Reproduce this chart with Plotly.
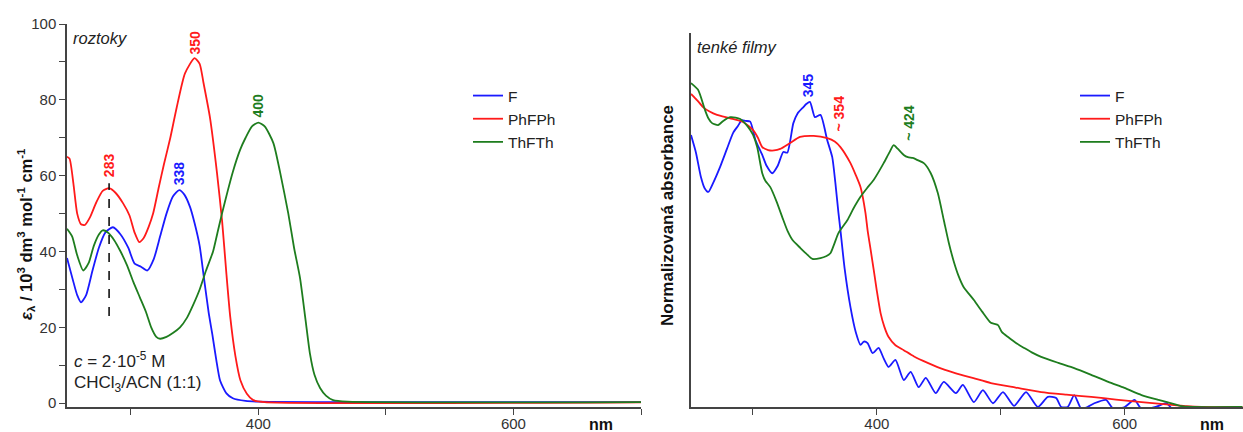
import plotly.graph_objects as go

# ---------------- Left panel: solutions (roztoky) ----------------
sol_F_nm = [250, 255, 258, 261, 265, 270, 275, 280, 286, 292, 298, 303, 308, 313, 318, 323, 328, 333,
            338, 342, 346.5, 350, 354, 357, 361, 364, 367, 370, 375, 380, 390, 400, 450, 700]
sol_F_eps = [38.3, 32, 28.5, 26.6, 28.5, 35, 41, 45, 46.4, 44.5, 41, 36.8, 36, 35, 38, 44, 50, 54.5,
             56.2, 55, 51.7, 47.5, 41.5, 34, 24, 18, 11.5, 6, 2.6, 1.3, 0.6, 0.4, 0.3, 0.3]

sol_PhFPh_nm = [250, 252, 255, 258, 261, 264, 268, 273, 278, 283, 288, 294, 299, 303, 306.6, 310, 314,
                317.5, 322, 326, 331, 336, 342.5, 350, 354, 357, 362, 367.6, 371.6, 375, 378, 382, 386,
                391, 396, 405, 700]
sol_PhFPh_eps = [65, 64.5, 58, 50, 47.2, 47, 49, 53, 56, 56.7, 55.5, 52.7, 49.5, 45, 42.5, 43.5, 46.5,
                 50, 57, 63, 70, 78, 87, 91, 89.5, 84.5, 75.5, 60.7, 48, 34, 22.7, 12.5, 6,
                 2.5, 0.8, 0.3, 0.2]

sol_ThFTh_nm = [250, 254, 258, 262.7, 267, 271, 275, 278, 282, 287, 292, 297, 302, 307, 312, 316, 320,
                323, 328, 333, 338.6, 344, 349, 354, 359, 364.5, 368, 371.5, 376, 380, 385.7, 390, 395,
                400, 405, 411.8, 417, 423.5, 428, 432.7, 437, 440.5, 444, 448.4, 453, 458.6, 470, 700]
sol_ThFTh_eps = [46, 44, 39, 35, 37, 41.5, 44.5, 45.6, 45, 43, 40, 36.4, 32, 28, 24, 20, 17.5,
                 17, 17.5, 18.5, 20, 22.5, 26, 30, 35, 40, 45, 50, 56, 61, 66.8, 70, 73,
                 74, 73, 68.6, 61, 50, 41, 33, 22, 13, 7.5, 4, 2, 0.8, 0.4, 0.3]

sol_peaks_nm = [283, 338, 350, 400]
sol_peaks_y = [62.8, 60.7, 95, 78.6]
sol_peaks_label = ["283", "338", "350", "400"]
sol_peaks_color = ["#ff1a1a", "#1a1aff", "#ff1a1a", "#1e7d1e"]

# dashed marker line at 283 nm
dash_nm = [283, 283]
dash_eps = [23, 58]

# ---------------- Right panel: thin films (tenké filmy) ----------------
film_F_nm = [250, 254, 258, 261, 264, 268, 273.5, 279, 284, 288, 291, 294, 297.8, 302, 307.5, 311, 315.6,
             320, 324.5, 327.7, 332.6, 336, 340.7, 343, 346, 350, 354.5, 359.9, 364, 366.5, 369, 370.6,
             374, 378.7, 383, 386.8, 389.5, 392.5, 396.6, 401.4, 405.5, 409.5, 415, 421.7, 427.3, 433.8,
             439.5, 447.5, 454, 463.8, 469.4, 478.3, 485.6, 493.7, 501.8, 510.7, 520.4, 530, 538, 544.7,
             548.8, 554, 559.3, 565, 570, 575.5, 585, 590.9, 600, 607.9, 613.6, 625, 633.8, 640, 660, 695]
film_F_abs = [0.727, 0.68, 0.615, 0.585, 0.575, 0.6, 0.642, 0.69, 0.733, 0.752, 0.767, 0.765, 0.763, 0.714,
              0.674, 0.645, 0.625, 0.645, 0.682, 0.68, 0.759, 0.785, 0.802, 0.81, 0.816, 0.775, 0.781,
              0.714, 0.668, 0.6, 0.519, 0.473, 0.37, 0.267, 0.2, 0.166, 0.175, 0.171, 0.144, 0.158, 0.13,
              0.107, 0.126, 0.072, 0.094, 0.053, 0.078, 0.037, 0.067, 0.037, 0.059, 0.013, 0.045, 0.01,
              0.04, 0.003, 0.04, 0.0, 0.027, 0.024, 0.0, 0.0, 0.032, -0.005, 0.0, 0.01, 0.019, -0.005,
              0.0, 0.019, -0.005, 0.0, 0.01, -0.01, -0.01, -0.01]

film_PhFPh_nm = [250, 255, 259.7, 265, 271, 281.6, 292, 300, 304, 307.5, 312.3, 317, 322, 330, 338, 349,
                 360, 366, 370.6, 378.7, 383, 386.8, 390.8, 392.5, 395, 397.5, 400, 403, 406, 409.5, 415,
                 421.7, 430, 441, 455, 463.8, 478, 492, 512, 532.6, 553, 573, 593, 613.6, 627, 640, 650,
                 662, 695]
film_PhFPh_abs = [0.837, 0.82, 0.802, 0.79, 0.781, 0.772, 0.762, 0.741, 0.72, 0.695, 0.687, 0.686, 0.69,
                  0.706, 0.722, 0.725, 0.719, 0.71, 0.695, 0.652, 0.62, 0.588, 0.519, 0.473, 0.42, 0.366,
                  0.31, 0.251, 0.215, 0.187, 0.165, 0.152, 0.135, 0.118, 0.099, 0.09, 0.077, 0.064,
                  0.052, 0.04, 0.033, 0.027, 0.02, 0.013, 0.009, 0.005, 0.002, 0.0, 0.0]

film_ThFTh_nm = [250, 255.7, 261.3, 264, 267, 271.9, 276, 281.6, 286, 289.7, 296, 300, 303.4, 307.5, 310,
                 314, 319, 324.5, 328, 331.8, 338.3, 343, 348, 354.5, 359, 362.5, 365.5, 369, 376.3, 381,
                 386.8, 392, 397.4, 405.5, 410, 413.6, 417, 421.7, 425, 428.9, 433, 437.9, 443.5, 449.2,
                 454, 458, 462, 466, 470, 478.3, 485, 492, 495, 497.8, 501, 505.9, 512, 518.8, 525,
                 532.6, 546.4, 559.3, 573, 586.8, 599.8, 613.6, 627.3, 640, 646, 655, 695]
film_ThFTh_abs = [0.866, 0.848, 0.794, 0.772, 0.759, 0.754, 0.765, 0.775, 0.774, 0.77, 0.749, 0.728,
                  0.695, 0.625, 0.605, 0.588, 0.55, 0.5, 0.47, 0.447, 0.425, 0.41, 0.396, 0.398, 0.403,
                  0.411, 0.435, 0.465, 0.5, 0.53, 0.562, 0.585, 0.607, 0.652, 0.68, 0.7, 0.69, 0.674,
                  0.668, 0.666, 0.66, 0.652, 0.625, 0.572, 0.5, 0.44, 0.39, 0.35, 0.321, 0.286, 0.255,
                  0.225, 0.222, 0.219, 0.2, 0.187, 0.172, 0.158, 0.146, 0.134, 0.118, 0.104, 0.086,
                  0.067, 0.051, 0.032, 0.019, 0.008, 0.002, 0.0, 0.0]

film_peaks_nm = [344.7, 369.8, 425.7]
film_peaks_y = [0.861, 0.786, 0.759]
film_peaks_label = ["345", "~ 354", "~ 424"]
film_peaks_color = ["#1a1aff", "#ff1a1a", "#1e7d1e"]

series_names = ["F", "PhFPh", "ThFTh"]
series_colors = ["#1a1aff", "#ff1a1a", "#1e7d1e"]

FONT = "Liberation Sans, Arial, sans-serif"
W, H = 1243, 432

fig = go.Figure()

sol = [(sol_F_nm, sol_F_eps), (sol_PhFPh_nm, sol_PhFPh_eps), (sol_ThFTh_nm, sol_ThFTh_eps)]
film = [(film_F_nm, film_F_abs), (film_PhFPh_nm, film_PhFPh_abs), (film_ThFTh_nm, film_ThFTh_abs)]

for (xs, ys), name, col in zip(sol, series_names, series_colors):
    fig.add_trace(go.Scatter(x=xs, y=ys, name=name, mode="lines",
                             line=dict(color=col, width=1.8, shape="spline", smoothing=0.6),
                             xaxis="x", yaxis="y", legend="legend"))

fig.add_trace(go.Scatter(x=dash_nm, y=dash_eps, mode="lines", showlegend=False,
                         line=dict(color="#111111", width=1.6, dash="dash"),
                         xaxis="x", yaxis="y"))

for (xs, ys), name, col in zip(film, series_names, series_colors):
    fig.add_trace(go.Scatter(x=xs, y=ys, name=name, mode="lines",
                             line=dict(color=col, width=1.8, shape="spline", smoothing=0.6),
                             xaxis="x2", yaxis="y2", legend="legend2"))

annotations = []
for xv, yv, lab, col in zip(sol_peaks_nm, sol_peaks_y, sol_peaks_label, sol_peaks_color):
    annotations.append(dict(x=xv, y=yv, xref="x", yref="y", text="<b>%s</b>" % lab, showarrow=False,
                            textangle=-90, font=dict(family=FONT, size=14, color=col)))
for xv, yv, lab, col in zip(film_peaks_nm, film_peaks_y, film_peaks_label, film_peaks_color):
    annotations.append(dict(x=xv, y=yv, xref="x2", yref="y2", text="<b>%s</b>" % lab, showarrow=False,
                            textangle=-90, font=dict(family=FONT, size=14, color=col)))


def px(xp):
    return xp / W


def py(yp):
    return (H - yp) / H


txt = dict(family=FONT, size=16.5, color="#222222")
txt17 = dict(family=FONT, size=17, color="#222222")
annotations += [
    dict(x=px(71), y=py(38.5), xref="paper", yref="paper", xanchor="left", yanchor="middle",
         text="<i>roztoky</i>", showarrow=False, font=txt),
    dict(x=px(695), y=py(47), xref="paper", yref="paper", xanchor="left", yanchor="middle",
         text="<i>tenké filmy</i>", showarrow=False, font=txt),
    dict(x=px(72), y=py(360), xref="paper", yref="paper", xanchor="left", yanchor="middle",
         text="<i>c</i> = 2·10<sup>-5</sup> M", showarrow=False, font=txt17),
    dict(x=px(72), y=py(384), xref="paper", yref="paper", xanchor="left", yanchor="middle",
         text="CHCl<sub>3</sub>/ACN (1:1)", showarrow=False, font=txt17),
    dict(x=px(601), y=py(424), xref="paper", yref="paper", xanchor="center", yanchor="middle",
         text="<b>nm</b>", showarrow=False, font=dict(family=FONT, size=16, color="#111111")),
    dict(x=px(1212), y=py(424), xref="paper", yref="paper", xanchor="center", yanchor="middle",
         text="<b>nm</b>", showarrow=False, font=dict(family=FONT, size=16, color="#111111")),
    dict(x=px(26), y=py(234), xref="paper", yref="paper", xanchor="center", yanchor="middle",
         textangle=-90, showarrow=False, font=dict(family=FONT, size=16.5, color="#111111"),
         text="<b><i>ε</i><sub>λ</sub> / 10<sup>3</sup> dm<sup>3</sup> mol<sup>-1</sup> cm<sup>-1</sup></b>"),
    dict(x=px(667), y=py(215), xref="paper", yref="paper", xanchor="center", yanchor="middle",
         textangle=-90, showarrow=False, font=dict(family=FONT, size=17, color="#111111"),
         text="<b>Normalizovaná absorbance</b>"),
]

axis_common = dict(showgrid=False, zeroline=False, showline=True, linecolor="#444444", linewidth=1.5,
                   mirror=False, tickfont=dict(family=FONT, size=15, color="#333333"),
                   ticks="outside", ticklen=6, tickwidth=1.2, tickcolor="#444444", automargin=False)

fig.update_layout(
    width=W, height=H,
    margin=dict(l=0, r=0, t=0, b=0),
    paper_bgcolor="white", plot_bgcolor="white",
    font=dict(family=FONT, size=14, color="#222222"),
    xaxis=dict(domain=[px(67), px(641)], range=[250, 700], anchor="y", tick0=0, dtick=200,
               ticklabelstandoff=-4,
               minor=dict(dtick=100, ticklen=6, tickcolor="#444444", ticks="outside"), **axis_common),
    yaxis=dict(domain=[py(407), py(24)], range=[-1, 100], anchor="x", tick0=0, dtick=20,
               minor=dict(dtick=10, ticklen=6, tickcolor="#444444", ticks="outside"), **axis_common),
    xaxis2=dict(domain=[px(691), 1.0], range=[250, 695.5], anchor="y2", tick0=0, dtick=200,
                ticklabelstandoff=-4,
                minor=dict(dtick=100, ticklen=6, tickcolor="#444444", ticks="outside"), **axis_common),
    yaxis2=dict(domain=[py(407), py(33)], range=[0, 1.0], anchor="x2", showticklabels=False,
                **{k: v for k, v in axis_common.items() if k not in ("ticks",)}, ticks=""),
    legend=dict(x=px(468), y=py(79), xanchor="left", yanchor="top", bgcolor="rgba(0,0,0,0)",
                font=dict(family=FONT, size=15.5, color="#222222"), tracegroupgap=0),
    legend2=dict(x=px(1075), y=py(79), xanchor="left", yanchor="top", bgcolor="rgba(0,0,0,0)",
                 font=dict(family=FONT, size=15.5, color="#222222"), tracegroupgap=0),
    annotations=annotations,
    showlegend=True,
)

fig.write_html("out.html")
